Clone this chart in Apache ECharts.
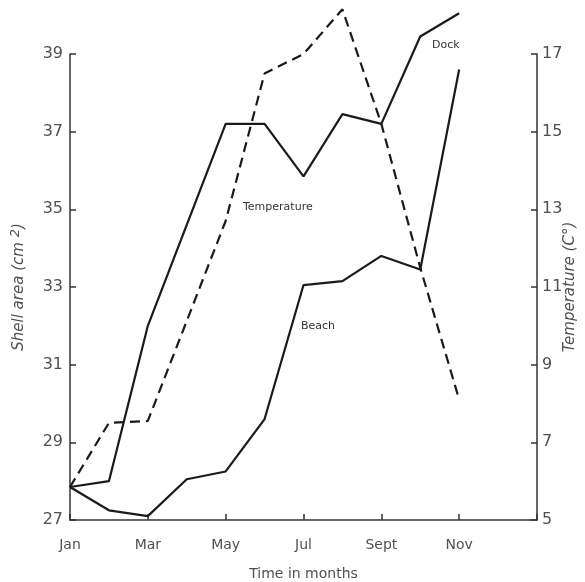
<!DOCTYPE html>
<html>
<head>
<meta charset="utf-8">
<script src="https://cdn.jsdelivr.net/npm/echarts@6/dist/echarts.min.js"></script>
<style>
  html, body { margin: 0; padding: 0; background: #fff; }
  #chart { width: 585px; height: 582px; }
</style>
</head>
<body>
<div id="chart"></div>
<script>
// Month index: 0 = Jan ... 12 = following Jan
const monthTickLabels = ['Jan', 'Mar', 'May', 'Jul', 'Sept', 'Nov', ''];

// Shell area (cm2) at the dock site
const dockMonths = [0, 1, 2, 4, 5, 6, 7, 8, 9, 10];
const dockArea   = [27.85, 28.0, 32.0, 37.2, 37.2, 35.85, 37.45, 37.2, 39.45, 40.05];

// Shell area (cm2) at the beach site
const beachMonths = [0, 1, 2, 3, 4, 5, 6, 7, 8, 9, 10];
const beachArea   = [27.85, 27.25, 27.1, 28.05, 28.25, 29.6, 33.05, 33.15, 33.8, 33.45, 38.6];

// Water temperature (C°)
const tempMonths = [0, 1, 2, 4, 5, 6, 7, 8, 9, 10];
const tempValues = [5.85, 7.5, 7.55, 12.7, 16.5, 17.0, 18.15, 15.2, 11.5, 8.1];

const pairs = (xs, ys) => xs.map((x, i) => [x, ys[i]]);

const textColor = '#505050';
const lineColor = '#1a1a1a';
const fontFamily = 'DejaVu Sans';

const chart = echarts.init(document.getElementById('chart'));

const axisCommon = {
  axisLine: { show: true, lineStyle: { color: '#333', width: 1.5 } },
  axisTick: { show: true, inside: true, length: 6, lineStyle: { color: '#333', width: 1.5 } },
  splitLine: { show: false }
};

chart.setOption({
  animation: false,
  backgroundColor: '#fff',
  grid: { left: 70, right: 48, top: 54, bottom: 62, containLabel: false, outerBoundsMode: 'none' },
  xAxis: {
    type: 'value',
    min: 0,
    max: 12,
    interval: 2,
    ...axisCommon,
    axisLabel: {
      color: textColor, fontFamily, fontSize: 14, margin: 18,
      formatter: v => monthTickLabels[v / 2] || ''
    },
    name: 'Time in months',
    nameLocation: 'middle',
    nameGap: 47,
    nameTextStyle: { color: textColor, fontFamily, fontSize: 14 }
  },
  yAxis: [
    {
      type: 'value',
      position: 'left',
      min: 27,
      max: 39,
      interval: 2,
      ...axisCommon,
      axisLabel: { color: textColor, fontFamily, fontSize: 16, margin: 7 },
      name: '{a|Shell area (cm }{s|2}{a|)}',
      nameLocation: 'middle',
      nameRotate: 90,
      nameGap: 40,
      nameTextStyle: {
        rich: {
          a: { color: textColor, fontFamily, fontSize: 15, fontStyle: 'italic' },
          s: { color: textColor, fontFamily, fontSize: 13, fontStyle: 'italic', verticalAlign: 'top', padding: [0, 0, 8, 0] }
        }
      }
    },
    {
      type: 'value',
      position: 'right',
      min: 5,
      max: 17,
      interval: 2,
      ...axisCommon,
      axisLabel: { color: textColor, fontFamily, fontSize: 16, margin: 5 },
      name: 'Temperature (C°)',
      nameLocation: 'middle',
      nameRotate: 90,
      nameGap: 26,
      nameMoveOverlap: false,
      nameTextStyle: { color: textColor, fontFamily, fontSize: 15, fontStyle: 'italic' }
    }
  ],
  series: [
    {
      name: 'Dock',
      type: 'line',
      yAxisIndex: 0,
      data: pairs(dockMonths, dockArea),
      symbol: 'none',
      clip: false,
      lineStyle: { color: lineColor, width: 2.2 }
    },
    {
      name: 'Beach',
      type: 'line',
      yAxisIndex: 0,
      data: pairs(beachMonths, beachArea),
      symbol: 'none',
      clip: false,
      lineStyle: { color: lineColor, width: 2.2 }
    },
    {
      name: 'Temperature',
      type: 'line',
      yAxisIndex: 1,
      data: pairs(tempMonths, tempValues),
      symbol: 'none',
      clip: false,
      lineStyle: { color: lineColor, width: 2.2, type: [10, 6] }
    }
  ],
  graphic: [
    { type: 'text', left: 243, top: 202, style: { text: 'Temperature', fill: '#333', font: '11px "DejaVu Sans"' } },
    { type: 'text', left: 432, top: 40, style: { text: 'Dock', fill: '#333', font: '11px "DejaVu Sans"' } },
    { type: 'text', left: 301, top: 321, style: { text: 'Beach', fill: '#333', font: '11px "DejaVu Sans"' } }
  ]
});
</script>
</body>
</html>
